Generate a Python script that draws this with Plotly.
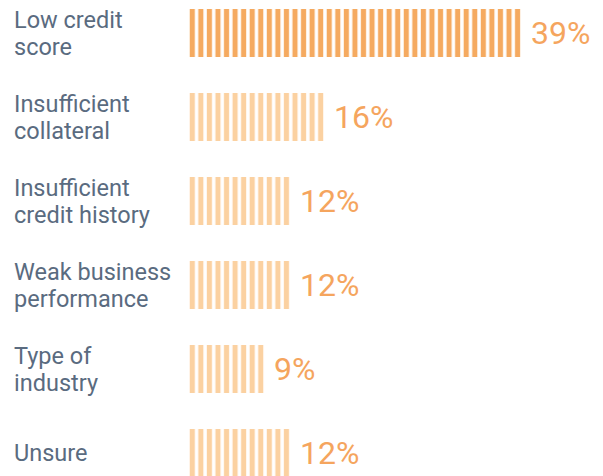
import plotly.graph_objects as go

categories = ["Low credit<br>score", "Insufficient<br>collateral", "Insufficient<br>credit history",
              "Weak business<br>performance", "Type of<br>industry", "Unsure"]
values = [39, 16, 12, 12, 9, 12]
value_labels = ["39%", "16%", "12%", "12%", "9%", "12%"]
bar_colors = ["#F5AA60", "#FBD1A1", "#FBD1A1", "#FBD1A1", "#FBD1A1", "#FBD1A1"]

# page has ~8px body margin; figure is sized to fit the window
OFF = 8
W, H = 603 - OFF, 476 - OFF
PX_PER_UNIT = 8.56
BAR_X0 = 188 - OFF
CENTER0 = 33 - OFF
STEP = 84
idx = list(range(len(categories)))

fig = go.Figure()
fig.add_trace(go.Bar(
    x=values, y=idx, orientation="h", width=0.57,
    marker=dict(color=bar_colors, line=dict(width=0),
                pattern=dict(shape="|", size=PX_PER_UNIT, solidity=0.6, fillmode="replace")),
    hoverinfo="skip",
))

for i, (c, v, t) in enumerate(zip(categories, values, value_labels)):
    lines = c.split("<br>")
    shifts = [0] if len(lines) == 1 else [13, -13.5]
    for line, ys in zip(lines, shifts):
        fig.add_annotation(x=5 / W, xref="paper", y=i, yref="y", yshift=ys, text=line,
                           showarrow=False, xanchor="left", align="left", yanchor="middle",
                           borderpad=0,
                           font=dict(family="Roboto", size=23.5, color="#5A6B80"))
    fig.add_annotation(x=v, xref="x", y=i, yref="y", text=t, showarrow=False,
                       xanchor="left", yanchor="middle", xshift=7,
                       font=dict(family="Roboto", size=32, color="#F5A55E"))

fig.update_layout(
    width=W, height=H, margin=dict(l=0, r=0, t=0, b=0),
    plot_bgcolor="white", paper_bgcolor="white", showlegend=False,
    xaxis=dict(domain=[BAR_X0 / W, 1], range=[0, (W - BAR_X0) / PX_PER_UNIT],
               visible=False, fixedrange=True),
    yaxis=dict(range=[(H - CENTER0) / STEP, -CENTER0 / STEP], visible=False, fixedrange=True),
)
fig.write_html("out.html")
